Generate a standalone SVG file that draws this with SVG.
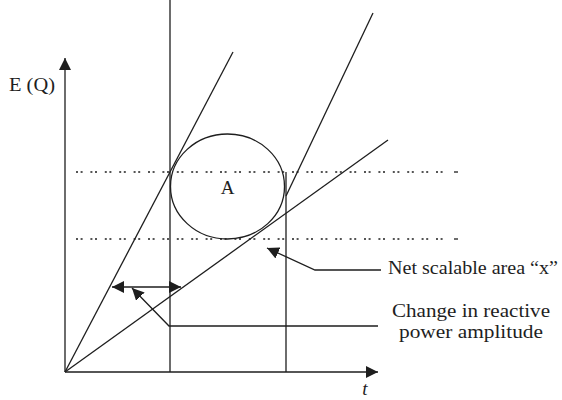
<svg xmlns="http://www.w3.org/2000/svg" width="562" height="400" viewBox="0 0 562 400">
<defs>
<style>
.ln{stroke:#1e1e1e;stroke-width:1.3;fill:none}
.dot{stroke:#1e1e1e;stroke-width:1.5;fill:none;stroke-dasharray:2 2.6 2 7.8}
.tx{font-family:"Liberation Serif","Times New Roman",serif;font-size:19px;fill:#1e1e1e}
</style>
<marker id="ah" viewBox="0 0 12 12" refX="12" refY="6" markerWidth="12" markerHeight="12" markerUnits="userSpaceOnUse" orient="auto-start-reverse">
<path d="M0,0 L12,6 L0,12 Z" fill="#1e1e1e"/>
</marker>
</defs>
<rect width="562" height="400" fill="#fff"/>
<g id="axes">
<line class="ln" x1="65" y1="372" x2="65" y2="58" marker-end="url(#ah)"/>
<line class="ln" x1="65" y1="372" x2="378" y2="372" marker-end="url(#ah)"/>
<text class="tx" x="9" y="91" textLength="46" lengthAdjust="spacingAndGlyphs">E (Q)</text>
<text class="tx" x="365" y="395" text-anchor="middle" font-style="italic">t</text>
</g>
<g id="guides">
<line class="ln" x1="170" y1="0" x2="170" y2="372"/>
<line class="ln" x1="286" y1="172" x2="286" y2="372"/>
<line class="dot" x1="76" y1="172" x2="450" y2="172"/>
<line class="dot" x1="76" y1="239" x2="450" y2="239"/>
<line class="ln" x1="454" y1="172" x2="458" y2="172"/>
<line class="ln" x1="454" y1="239" x2="458" y2="239"/>
</g>
<g id="lines">
<line class="ln" x1="65" y1="372" x2="233" y2="52"/>
<line class="ln" x1="65" y1="372" x2="388" y2="140"/>
<line class="ln" x1="286" y1="196" x2="373" y2="13"/>
</g>
<g id="areaA">
<ellipse class="ln" cx="227.5" cy="186.5" rx="57" ry="52.5"/>
<text class="tx" x="227.5" y="194" text-anchor="middle">A</text>
</g>
<g id="label-net">
<text class="tx" x="388" y="274" textLength="170" lengthAdjust="spacingAndGlyphs">Net scalable area “x”</text>
</g>
<g id="label-change">
<text class="tx" x="471" y="317" text-anchor="middle" textLength="158" lengthAdjust="spacingAndGlyphs">Change in reactive</text>
<text class="tx" x="471" y="338" text-anchor="middle" textLength="144" lengthAdjust="spacingAndGlyphs">power amplitude</text>
</g>
<g id="connectors">
<polyline class="ln" points="381,270 315,270 267,248" marker-end="url(#ah)"/>
<polyline class="ln" points="378,326 169,326 132,288" marker-end="url(#ah)"/>
<line class="ln" x1="112" y1="287" x2="181" y2="287" marker-start="url(#ah)" marker-end="url(#ah)"/>
</g>
</svg>
